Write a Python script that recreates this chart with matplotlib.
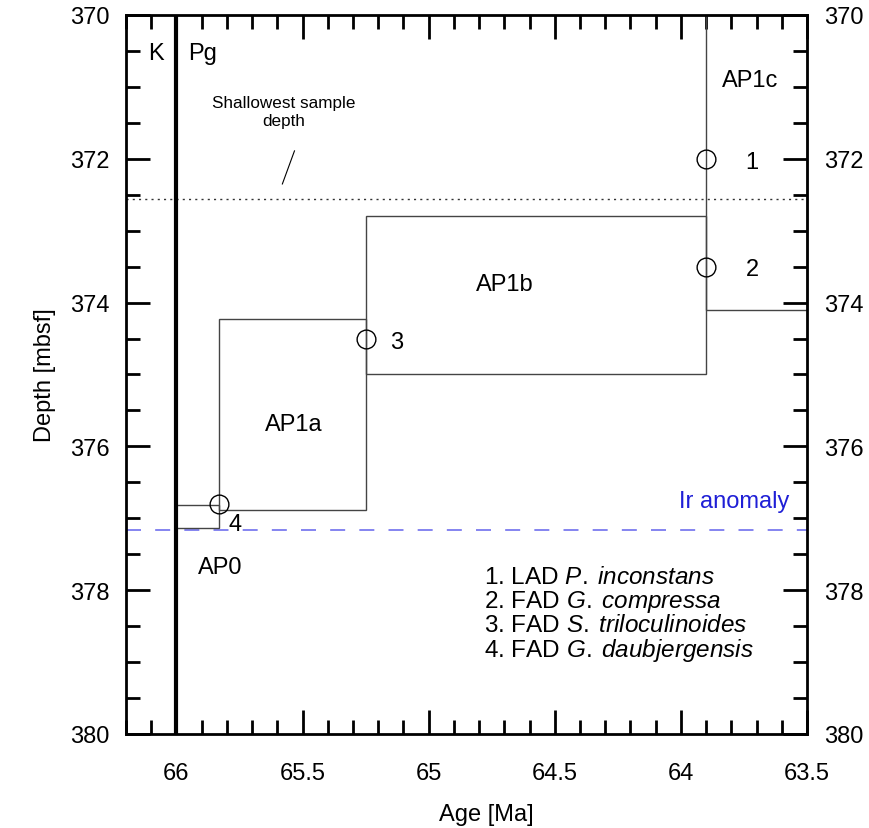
import numpy as np
import matplotlib
matplotlib.use("Agg")
import matplotlib.pyplot as plt
from matplotlib.patches import Rectangle
from matplotlib.ticker import MultipleLocator

plt.rcParams['font.family'] = ['Liberation Sans', 'DejaVu Sans']
plt.rcParams['mathtext.fontset'] = 'custom'
plt.rcParams['mathtext.rm'] = 'Liberation Sans'
plt.rcParams['mathtext.it'] = 'Liberation Sans:italic'

# zone boxes: age range and depth range of each zone
zones = ['AP0', 'AP1a', 'AP1b', 'AP1c']
age_old = [66.0, 65.83, 65.25, 63.9]
age_young = [65.83, 65.25, 63.9, 63.5]
depth_top = [376.82, 374.23, 372.8, 370.0]
depth_bot = [377.13, 376.88, 375.0, 374.1]
zone_label_x = [65.826, 65.536, 64.70, 63.726]
zone_label_y = [377.68, 375.69, 373.74, 370.91]

# biostratigraphic datums
datum_age = [63.9, 63.9, 65.25, 65.83]
datum_depth = [372.0, 373.5, 374.5, 376.8]
datum_num = ['1', '2', '3', '4']
datum_label_x = [63.718, 63.718, 65.128, 65.766]
datum_label_y = [372.05, 373.53, 374.55, 377.08]

legend_lines = [r'1. LAD $\mathit{P.\;inconstans}$',
                r'2. FAD $\mathit{G.\;compressa}$',
                r'3. FAD $\mathit{S.\;triloculinoides}$',
                r'4. FAD $\mathit{G.\;daubjergensis}$']

kpg_age = 66.0
shallowest_depth = 372.56
ir_depth = 377.16

fig = plt.figure(figsize=(8.7, 8.29), dpi=100)
ax = fig.add_axes([0.1448, 0.1134, 0.7828, 0.8673])

for i in range(len(zones)):
    ax.add_patch(Rectangle((age_old[i], depth_top[i]), age_young[i] - age_old[i],
                           depth_bot[i] - depth_top[i], fill=False,
                           edgecolor='#444444', lw=1.0, zorder=2, clip_on=False))
    ax.text(zone_label_x[i], zone_label_y[i], zones[i], fontsize=17,
            ha='center', va='center')

ax.plot(datum_age, datum_depth, 'o', mfc='none', mec='black', ms=13.5, mew=1.0, zorder=4)
for i in range(len(datum_num)):
    ax.text(datum_label_x[i], datum_label_y[i], datum_num[i], fontsize=17,
            ha='center', va='center')

# K/Pg boundary
ax.axvline(kpg_age, color='black', lw=3, zorder=5)
ax.text(66.083, 370.61, 'K', fontsize=17, ha='center', va='baseline')
ax.text(65.895, 370.61, 'Pg', fontsize=17, ha='center', va='baseline')

# shallowest sample and Ir anomaly
ax.axhline(shallowest_depth, color='#333333', lw=1, ls=(0, (1.5, 3)), zorder=1)
ax.text(65.576, 371.34, 'Shallowest sample\ndepth', fontsize=12.3, ha='center',
        va='center', linespacing=1.25)
ax.plot([65.58, 65.532], [372.35, 371.89], color='black', lw=0.8)

ax.axhline(ir_depth, color='#7070ee', lw=1.2, ls=(0, (9, 8.5)), zorder=1)
ax.text(63.79, 376.76, 'Ir anomaly', fontsize=17, color='#1f1fd6',
        ha='center', va='center')

for i, s in enumerate(legend_lines):
    ax.text(64.78, 377.82 + 0.334 * i, s, fontsize=17.5, ha='left', va='center')

ax.set_xlim(66.2, 63.5)
ax.set_ylim(380, 370)
ax.xaxis.set_major_locator(MultipleLocator(0.5))
ax.xaxis.set_minor_locator(MultipleLocator(0.1))
ax.yaxis.set_major_locator(MultipleLocator(2))
ax.yaxis.set_minor_locator(MultipleLocator(0.5))
ax.set_xticks([66, 65.5, 65, 64.5, 64, 63.5])
ax.set_xticklabels(['66', '65.5', '65', '64.5', '64', '63.5'])
ax.tick_params(which='both', direction='in', top=True, right=True,
               labelright=True, width=2, labelsize=17, pad=12)
ax.tick_params(axis='x', which='both', pad=20)
ax.tick_params(which='major', length=17)
ax.tick_params(which='minor', length=10)
for sp in ax.spines.values():
    sp.set_linewidth(2)

ax.set_xlabel('Age [Ma]', fontsize=17, labelpad=14)
ax.xaxis.label.set_x(0.529)
ax.set_ylabel('Depth [mbsf]', fontsize=17, labelpad=10)

fig.savefig('out.png', dpi=100)
